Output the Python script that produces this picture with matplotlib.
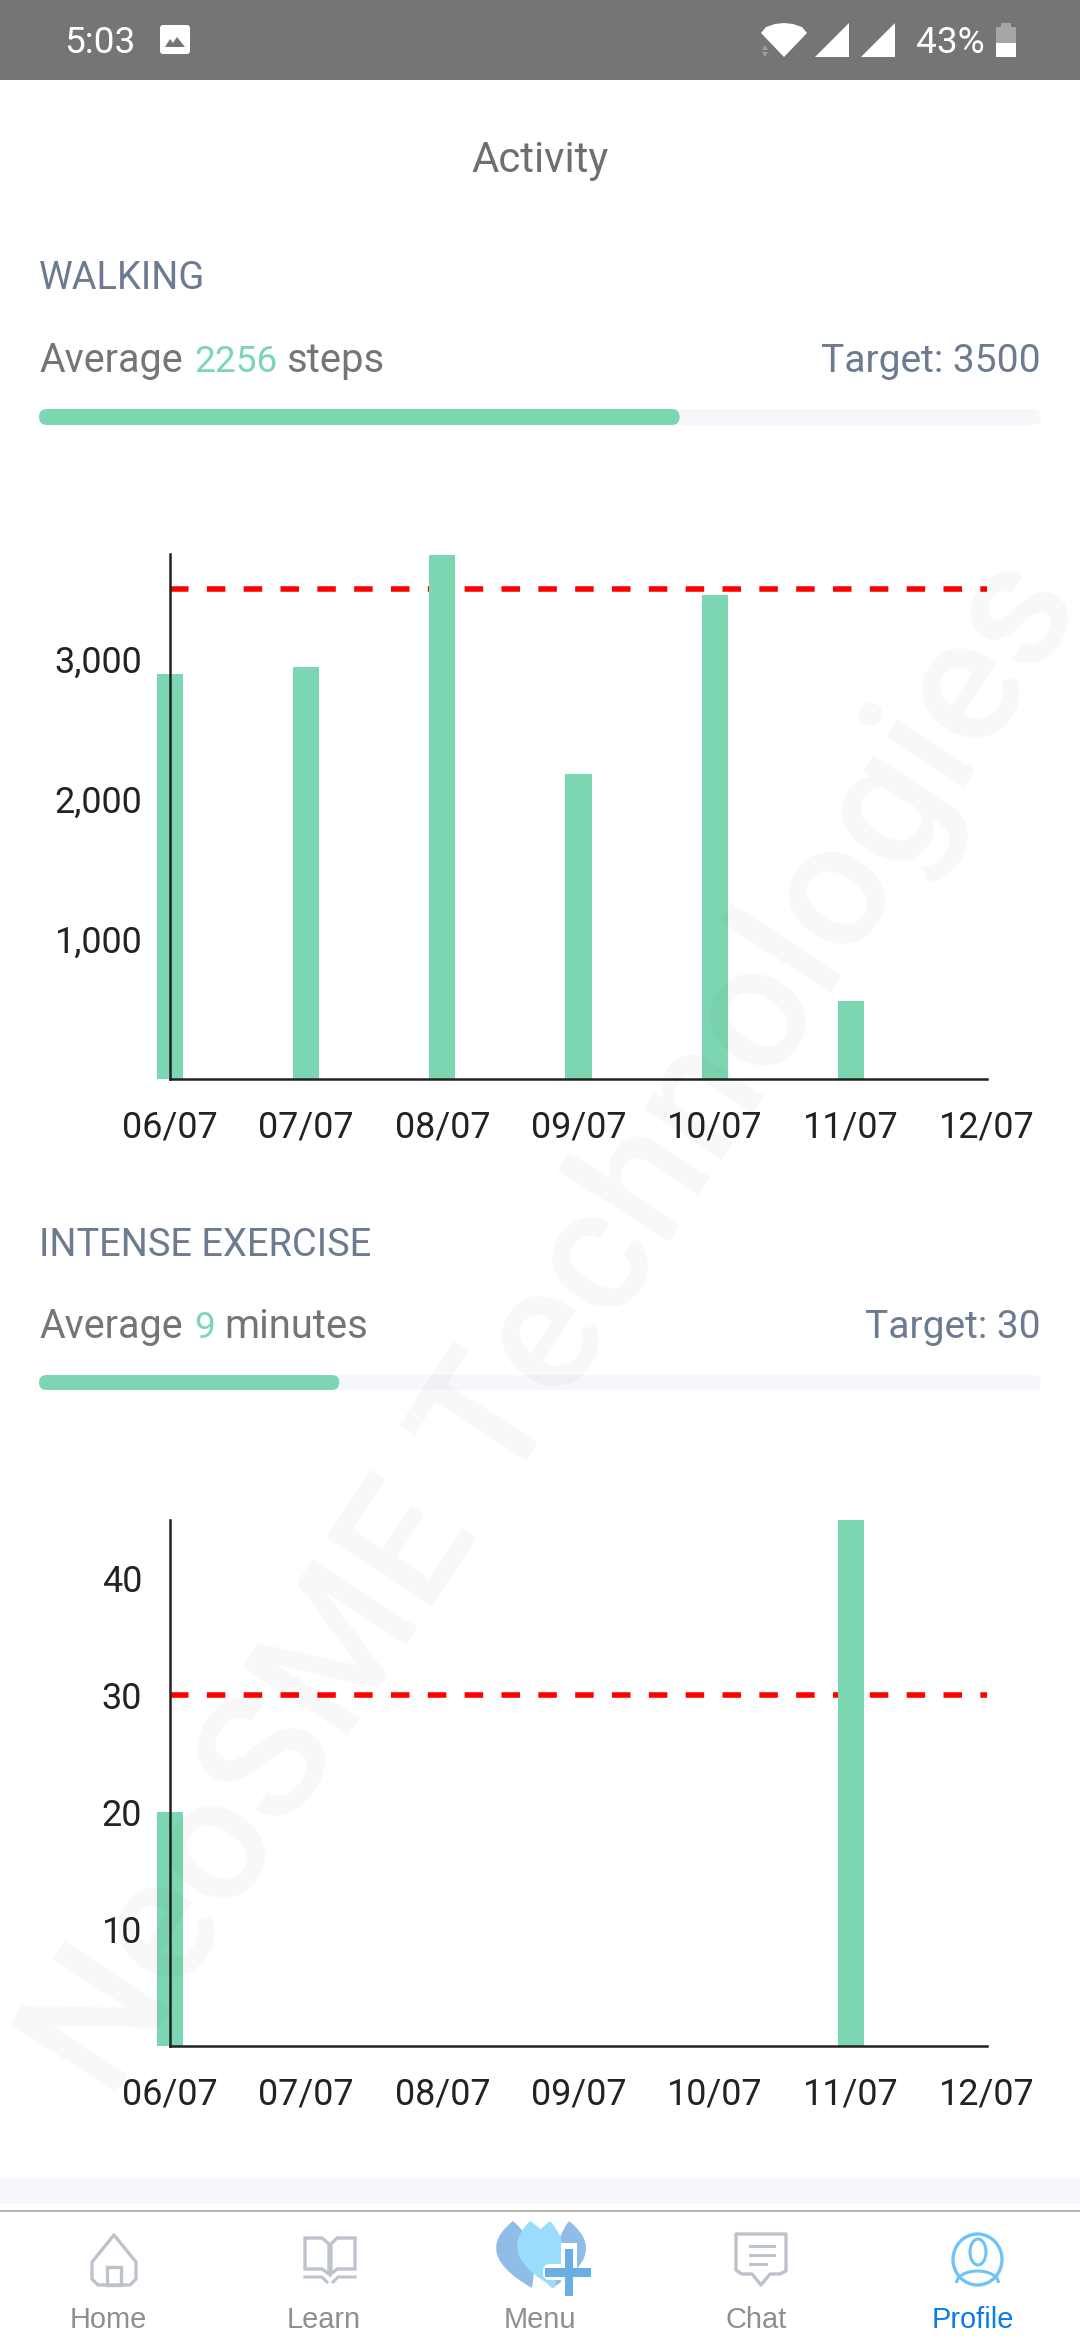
import matplotlib
matplotlib.use('Agg')
import matplotlib.pyplot as plt
from matplotlib.patches import FancyBboxPatch, Polygon, Rectangle, Ellipse, Arc, PathPatch
from matplotlib.path import Path

# Data
days = ["06/07", "07/07", "08/07", "09/07", "10/07", "11/07", "12/07"]
walking_steps = [2890, 2940, 3740, 2180, 3460, 560, 0]
exercise_minutes = [20, 0, 0, 0, 0, 45, 0]
walking_ticks = [1000, 2000, 3000]
exercise_ticks = [10, 20, 30, 40]
walking_target = 3500
exercise_target = 30
walking_progress = 0.64
exercise_progress = 0.30

GREEN = "#7cd6b1"
SLATE = "#6d7b91"
GRAY = "#757575"
ICON = "#bcc3cc"
TRACK = "#f5f7fa"
DARK = "#222222"

W, H = 1080, 2340


def px(size):
    # font size in image pixels -> points at dpi 100
    return size * 0.72


plt.rcParams['font.family'] = ['Roboto', 'DejaVu Sans']
fig = plt.figure(figsize=(W / 100, H / 100), dpi=100, facecolor="white")

ui = fig.add_axes([0, 0, 1, 1], zorder=0)
ui.set_xlim(0, W)
ui.set_ylim(H, 0)
ui.axis("off")


def label(x, y, s, size, color, ha="left", **kw):
    ui.text(x, y, s, fontsize=px(size), color=color, ha=ha, va="baseline", **kw)


def progress(y0, y1, frac):
    h = y1 - y0
    for x1, col in [(1041, TRACK), (39 + 1001 * frac, GREEN)]:
        ui.add_patch(FancyBboxPatch((39 + h / 2, y0 + h / 2), x1 - 39 - h, 0,
                                    boxstyle="round,pad=%f,rounding_size=%f" % (h / 2, h / 2),
                                    fc=col, ec="none"))


# Status bar
ui.add_patch(Rectangle((0, 0), W, 80, fc="#757575", ec="none"))
label(64, 53, "5:03", 37, "white")
ui.add_patch(FancyBboxPatch((162, 27), 26, 25, boxstyle="round,pad=2,rounding_size=3", fc="white", ec="none"))
ui.add_patch(Polygon([(165, 47), (170, 39), (173, 43), (177, 37), (185, 47)], fc="#757575", ec="none"))
ui.add_patch(Polygon([(761, 33), (766, 27), (775, 24), (784, 23), (793, 24), (802, 27), (807, 33), (784, 57)],
                     fc="white", ec="none"))
ui.add_patch(Polygon([(762, 50), (768, 50), (765, 45)], fc="#a0a0a0", ec="none"))
ui.add_patch(Polygon([(762, 52), (768, 52), (765, 57)], fc="#a0a0a0", ec="none"))
for x0 in (815, 861):
    ui.add_patch(Polygon([(x0, 57), (x0 + 34, 57), (x0 + 34, 23)], fc="white", ec="none"))
label(916, 53, "43%", 37, "white")
ui.add_patch(Rectangle((996, 27), 20, 16, fc="#a6a6a6", ec="none"))
ui.add_patch(Rectangle((1001, 23), 10, 4, fc="#a6a6a6", ec="none"))
ui.add_patch(Rectangle((996, 43), 20, 14, fc="white", ec="none"))

# Headers
label(540, 172, "Activity", 42, "#6f6f6f", ha="center")

label(39, 289, "WALKING", 38, SLATE)
label(39, 372, "Average", 39.5, GRAY)
label(194, 372, "2256", 37, GREEN)
label(286, 372, "steps", 40, GRAY)
label(1041, 372, "Target: 3500", 39, SLATE, ha="right")
progress(409, 425, walking_progress)

label(39, 1256, "INTENSE EXERCISE", 38, SLATE)
label(39, 1338, "Average", 39.5, GRAY)
label(194, 1338, "9", 37, GREEN)
label(224, 1338, "minutes", 40, GRAY)
label(1041, 1338, "Target: 30", 39, SLATE, ha="right")
progress(1375, 1390, exercise_progress)


def chart(top, bottom, ymax, values, ticks, target):
    ax = fig.add_axes([170 / W, 1 - bottom / H, (987 - 170) / W, (bottom - top) / H], zorder=1)
    ax.patch.set_alpha(0)
    ax.bar(range(len(days)), values, width=0.191, color=GREEN, clip_on=False, zorder=1)
    ax.plot([0, len(days) - 1], [target, target], color="#ff0000", lw=4,
            linestyle=(0, (3.33, 3.3)), dash_capstyle="butt", zorder=0.5)
    ax.set_xlim(0, len(days) - 1)
    ax.set_ylim(0, ymax)
    ax.set_xticks(range(len(days)))
    ax.set_xticklabels(days)
    ax.set_yticks(ticks)
    ax.set_yticklabels(["{:,}".format(t) for t in ticks])
    ax.tick_params(axis="x", length=0, pad=22, labelsize=px(36), labelcolor=DARK)
    ax.tick_params(axis="y", length=0, pad=20, labelsize=px(36), labelcolor=DARK)
    for side in ("top", "right"):
        ax.spines[side].set_visible(False)
    for side in ("left", "bottom"):
        ax.spines[side].set_linewidth(1.8)
        ax.spines[side].set_color(DARK)
    return ax


chart(554, 1079, 3750, walking_steps, walking_ticks, walking_target)
chart(1520, 2046, 45, exercise_minutes, exercise_ticks, exercise_target)

# Bottom navigation
ui.add_patch(Rectangle((0, 2178), W, 26, fc=TRACK, ec="none"))
ui.add_patch(Rectangle((0, 2210), W, 2, fc="#b3b3b3", ec="none"))
for x, name, col in [(108, "Home", "#8e8e93"), (324, "Learn", "#8e8e93"), (540, "Menu", "#8e8e93"),
                     (756, "Chat", "#8e8e93"), (973, "Profile", "#0a7bea")]:
    ui.text(x, 2328, name, fontsize=px(29), color=col, ha="center", va="baseline", family="Liberation Sans")

# home icon
ui.add_patch(Polygon([(114, 2235), (136, 2262), (136, 2279), (130, 2285), (98, 2285), (92, 2279), (92, 2262)],
                     fc="none", ec=ICON, lw=2.4, joinstyle="round"))
ui.add_patch(Polygon([(107, 2285), (107, 2267), (121, 2267), (121, 2285)], fc="none", ec=ICON, lw=2.4))
# book icon
ui.add_patch(Polygon([(305, 2238), (322, 2238), (329, 2244), (329, 2274), (322, 2269), (305, 2269)],
                     fc="none", ec=ICON, lw=2.4))
ui.add_patch(Polygon([(355, 2238), (337, 2238), (331, 2244), (331, 2274), (337, 2269), (355, 2269)],
                     fc="none", ec=ICON, lw=2.4))
ui.plot([305, 322, 327], [2277, 2277, 2282], color=ICON, lw=2.2)
ui.plot([355, 338, 333], [2277, 2277, 2282], color=ICON, lw=2.2)


def petal(top, left, bottom, right, col):
    tx, ty = top
    bx, by = bottom
    verts = [top, (left, ty + 20), (left, by - 25), bottom, (right, by - 25), (right, ty + 20), top]
    codes = [Path.MOVETO, Path.CURVE4, Path.CURVE4, Path.CURVE4, Path.CURVE4, Path.CURVE4, Path.CURVE4]
    ui.add_patch(PathPatch(Path(verts, codes), fc=col, ec="none"))


# menu icon
petal((569, 2221), 554, (552, 2288), 594, "#8fbde8")
petal((513, 2221), 488, (532, 2288), 536, "#8fbde8")
petal((550, 2221), 524, (552, 2288), 568, "#9adcfb")
petal((530, 2221), 510, (555, 2288), 560, "#9adcfb")
ui.add_patch(Rectangle((561, 2243), 16, 40, fc="white", ec="none"))
ui.add_patch(FancyBboxPatch((543, 2264), 34, 16, boxstyle="round,pad=0,rounding_size=7", fc="white", ec="none"))
ui.add_patch(Rectangle((565, 2249), 8, 47, fc="#6aaee6", ec="none"))
ui.add_patch(Rectangle((545, 2268), 46, 9, fc="#6aaee6", ec="none"))

# chat icon
ui.add_patch(Polygon([(736, 2234), (786, 2234), (786, 2271), (780, 2274), (770, 2274), (761, 2285), (752, 2274),
                      (742, 2274), (736, 2270)], fc="none", ec=ICON, lw=2.4, joinstyle="round"))
for y, x1 in [(2246, 776), (2255, 776), (2264, 768)]:
    ui.add_patch(Rectangle((749, y - 1.5), x1 - 749, 3.5, fc=ICON, ec="none"))

# profile icon
BLUE = "#6fc4f5"
ui.add_patch(Ellipse((977.5, 2259.5), 49, 51, fc="none", ec=BLUE, lw=2.4))
ui.add_patch(Ellipse((978, 2252), 16, 26, fc="none", ec=BLUE, lw=2.2))
ui.add_patch(Arc((977.5, 2283), 42, 24, theta1=180, theta2=360, ec=BLUE, lw=2.2))

# Watermark goes over everything
fig.text(110 / W, 1 - 2103 / H, "NeoSME Technologies", fontsize=px(176), color="black", alpha=0.03,
         fontweight=500, rotation=57, rotation_mode="anchor", ha="left", va="baseline", zorder=10)

plt.savefig("out.png", dpi=100)
